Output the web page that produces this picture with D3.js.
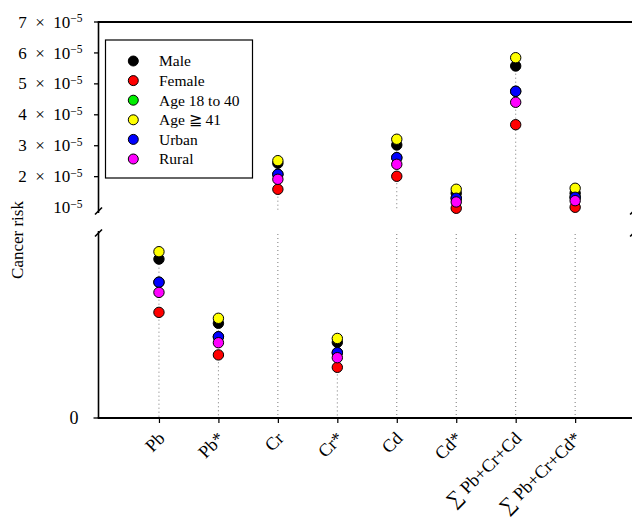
<!DOCTYPE html>
<html>
<head>
<meta charset="utf-8">
<script src="https://cdn.jsdelivr.net/npm/d3@7"></script>
<style>
  html, body { margin: 0; padding: 0; background: #fff; }
  svg { display: block; }
  text { font-family: "Liberation Serif", "Times New Roman", serif; fill: #000; }
</style>
</head>
<body>
<svg id="chart" width="632" height="519"></svg>
<script>
// ---------------- data ----------------
const categories = ["Pb", "Pb*", "Cr", "Cr*", "Cd", "Cd*", "∑ Pb+Cr+Cd", "∑ Pb+Cr+Cd*"];
const seriesNames = ["Male", "Female", "Age 18 to 40", "Age \u2267 41", "Urban", "Rural"];
const seriesColors = ["#000000", "#ff0000", "#00ee00", "#ffff00", "#0000ff", "#ff00ff"];

const male     = [0.859e-6, 0.512e-6, 2.436e-5, 0.409e-6, 3.025e-5, 1.464e-5, 5.578e-5, 1.464e-5];
const female   = [0.571e-6, 0.341e-6, 1.592e-5, 0.274e-6, 2.013e-5, 0.979e-5, 3.680e-5, 1.011e-5];
const age18to40= [0.734e-6, 0.439e-6, 2.076e-5, 0.353e-6, 2.614e-5, 1.302e-5, 4.760e-5, 1.334e-5];
const age41    = [0.899e-6, 0.539e-6, 2.517e-5, 0.430e-6, 3.210e-5, 1.593e-5, 5.846e-5, 1.625e-5];
const urban    = [0.734e-6, 0.439e-6, 2.076e-5, 0.353e-6, 2.614e-5, 1.302e-5, 4.760e-5, 1.334e-5];
const rural    = [0.679e-6, 0.407e-6, 1.915e-5, 0.326e-6, 2.400e-5, 1.182e-5, 4.405e-5, 1.224e-5];
const seriesValues = [male, female, age18to40, age41, urban, rural];

const upperTicks = [1e-5, 2e-5, 3e-5, 4e-5, 5e-5, 6e-5, 7e-5];
const upperTickMantissa = ["", "2", "3", "4", "5", "6", "7"];
const lowerTicks = [0];

// ---------------- layout ----------------
const svg = d3.select("#chart");
const left = 98.5, right = 634.6;
const upTop = 22, upBottom = 211;
const lowTop = 233, lowBottom = 418;
const breakValue = 0.89e-5;

const x = d3.scalePoint().domain(categories).range([left + 1, right]).padding(1);
const yUp = d3.scaleLinear().domain([breakValue, 7e-5]).range([upBottom, upTop]);
const yLow = d3.scaleLinear().domain([0, 1e-6]).range([lowBottom, lowTop]);
const yPos = v => v >= breakValue ? yUp(v) : yLow(v);

// dotted guide lines
categories.forEach((c, i) => {
  const mx = d3.max(seriesValues, s => s[i]);
  const xx = x(c);
  const segs = mx >= breakValue
    ? [[yUp(mx), upBottom - 1], [lowTop + 1, lowBottom]]
    : [[yLow(mx), lowBottom]];
  segs.forEach(([a, b]) => {
    svg.append("line")
      .attr("x1", xx).attr("x2", xx).attr("y1", a).attr("y2", b)
      .attr("stroke", "#777").attr("stroke-width", 1)
      .attr("stroke-dasharray", "1,3");
  });
});

// upper y axis
const gUp = svg.append("g").attr("transform", `translate(${left},0)`);
gUp.append("line").attr("x1", 0).attr("x2", 0).attr("y1", upTop).attr("y2", upBottom + 2)
  .attr("stroke", "#000").attr("stroke-width", 1.6);
upperTicks.forEach((t, i) => {
  const yy = yUp(t);
  if (upperTickMantissa[i] !== "") {
    gUp.append("line").attr("x1", -4.5).attr("x2", 0).attr("y1", yy).attr("y2", yy)
      .attr("stroke", "#000").attr("stroke-width", 1.3);
  }
  const tx = gUp.append("text").attr("x", -16).attr("y", yy).attr("dy", "0.33em")
    .attr("text-anchor", "end").attr("font-size", 17);
  if (upperTickMantissa[i] !== "") {
    tx.append("tspan").text(upperTickMantissa[i] + "\u2002\u00d7\u200210");
  } else {
    tx.append("tspan").text("10");
  }
  tx.append("tspan").attr("dy", "-0.45em").attr("font-size", 11.5).text("\u22125");
});

// lower y axis
const gLow = svg.append("g").attr("transform", `translate(${left},0)`);
gLow.append("line").attr("x1", 0).attr("x2", 0).attr("y1", lowTop - 2).attr("y2", lowBottom)
  .attr("stroke", "#000").attr("stroke-width", 1.6);
lowerTicks.forEach(t => {
  gLow.append("line").attr("x1", -5).attr("x2", 0).attr("y1", yLow(t)).attr("y2", yLow(t))
    .attr("stroke", "#000").attr("stroke-width", 1.3);
  gLow.append("text").attr("x", -20).attr("y", yLow(t)).attr("dy", "0.33em")
    .attr("text-anchor", "end").attr("font-size", 18).text(String(t));
});

// break marks (left and right)
[left, right - 1].forEach(bx => {
  [upBottom, lowTop].forEach(by => {
    svg.append("line").attr("x1", bx - 3.5).attr("x2", bx + 3.5)
      .attr("y1", by + 3.5).attr("y2", by - 3.5)
      .attr("stroke", "#000").attr("stroke-width", 1.6);
  });
});

// top frame line
svg.append("line").attr("x1", left - 0.8).attr("x2", right + 5).attr("y1", upTop).attr("y2", upTop)
  .attr("stroke", "#000").attr("stroke-width", 2);

// x axis
const xAxis = d3.axisBottom(x).tickSize(5).tickSizeOuter(0);
const gx = svg.append("g").attr("transform", `translate(0,${lowBottom})`).call(xAxis);
gx.select(".domain").remove();
gx.append("line").attr("x1", left - 0.8).attr("x2", right + 5).attr("y1", 0).attr("y2", 0)
  .attr("stroke", "#000").attr("stroke-width", 2);
gx.selectAll(".tick line").attr("stroke", "#000").attr("stroke-width", 1.2);
gx.selectAll(".tick text")
  .attr("font-family", "Liberation Serif, serif").attr("font-size", 18).attr("fill", "#000")
  .attr("text-anchor", "end")
  .attr("transform", "translate(2,17) rotate(-45)")
  .attr("dy", "0.35em").attr("x", 0).attr("y", 0)
  .each(function (d) {
    const t = d3.select(this);
    if (d.startsWith("\u2211")) {
      t.text(null);
      t.append("tspan").attr("font-size", 20).text("\u2211");
      t.append("tspan").text(d.slice(1));
    }
  });

// dots
seriesValues.forEach((vals, si) => {
  svg.append("g").selectAll("circle").data(vals).join("circle")
    .attr("cx", (d, i) => x(categories[i]))
    .attr("cy", d => yPos(d))
    .attr("r", 5.2)
    .attr("fill", seriesColors[si])
    .attr("stroke", "#000").attr("stroke-width", 1);
});

// y label
svg.append("text").attr("transform", "translate(23,240) rotate(-90)")
  .attr("text-anchor", "middle").attr("font-size", 17).text("Cancer risk");

// legend
const lg = svg.append("g");
lg.append("rect").attr("x", 105.5).attr("y", 40).attr("width", 147).attr("height", 138)
  .attr("fill", "#fff").attr("stroke", "#000").attr("stroke-width", 1.2);
seriesNames.forEach((n, i) => {
  const yy = 61 + i * 19.6;
  lg.append("circle").attr("cx", 133.3).attr("cy", yy).attr("r", 5)
    .attr("fill", seriesColors[i]).attr("stroke", "#000").attr("stroke-width", 1);
  lg.append("text").attr("x", 159).attr("y", yy).attr("dy", "0.35em")
    .attr("font-size", 15.5).text(n);
});
</script>
</body>
</html>
